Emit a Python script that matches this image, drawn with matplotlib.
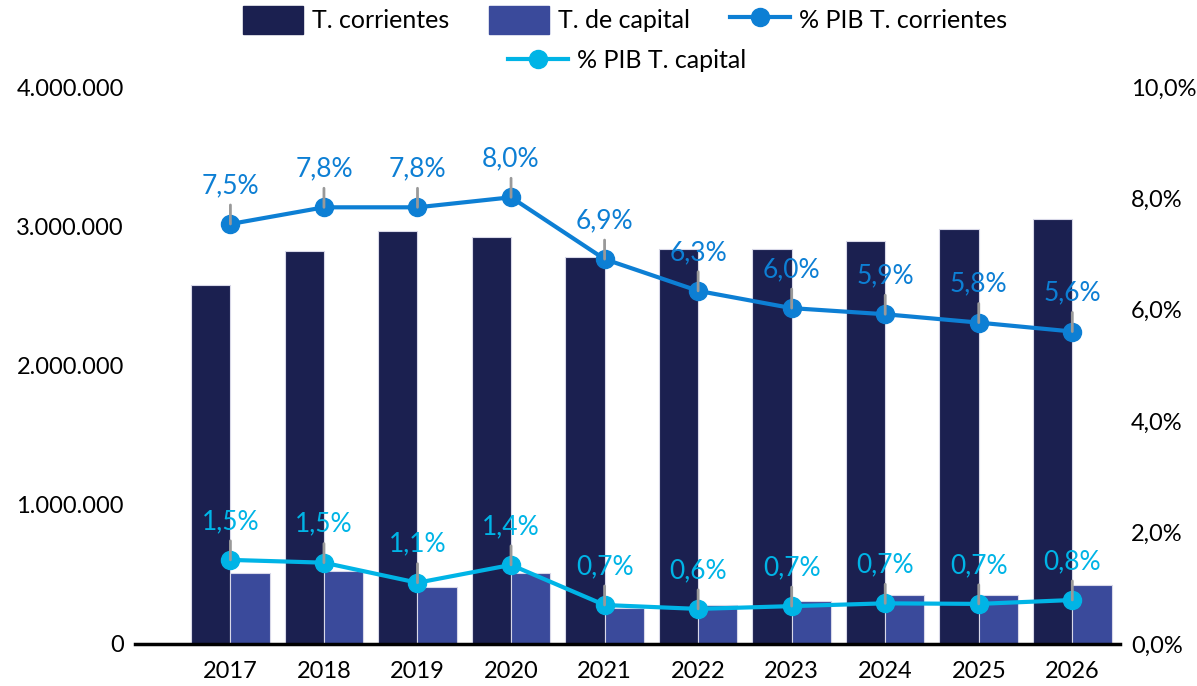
import matplotlib
matplotlib.use("Agg")
import matplotlib.pyplot as plt
from matplotlib.lines import Line2D
from matplotlib.patches import Patch
from matplotlib.ticker import FuncFormatter
import numpy as np

plt.rcParams['font.family'] = ['Lato', 'DejaVu Sans']

years = ["2017", "2018", "2019", "2020", "2021", "2022", "2023", "2024", "2025", "2026"]
t_corrientes = [2578000, 2822000, 2966000, 2923000, 2779000, 2837000, 2837000, 2894000, 2980000, 3052000]
t_capital = [512000, 526000, 409000, 512000, 256000, 280000, 309000, 352000, 352000, 424000]
pib_corrientes = [7.54, 7.84, 7.84, 8.02, 6.91, 6.34, 6.03, 5.92, 5.77, 5.61]
pib_capital = [1.51, 1.46, 1.10, 1.42, 0.70, 0.63, 0.68, 0.73, 0.72, 0.79]

c_dark = "#1b2050"
c_blue = "#3a4a9b"
c_line1 = "#0d7fd4"
c_line2 = "#00b4e6"

fig = plt.figure(figsize=(11.97, 6.86), dpi=100)
ax = fig.add_axes([135/1197, 42/686, (1120-135)/1197, (644-87)/686])
ax2 = ax.twinx()

x = np.arange(len(years))
w = 0.42
ax.bar(x - w/2, t_corrientes, width=w, color=c_dark, edgecolor="#d8d8e8", linewidth=0.8, zorder=1)
ax.bar(x + w/2, t_capital, width=w, color=c_blue, edgecolor="#d8d8e8", linewidth=0.8, zorder=1)

ax.set_xlim(-1.02, 9.51)
ax.set_ylim(0, 4000000)
ax.set_yticks([0, 1000000, 2000000, 3000000, 4000000])
ax.yaxis.set_major_formatter(FuncFormatter(lambda v, p: f"{int(v):,}".replace(",", ".")))
ax.set_xticks(x)
ax.set_xticklabels(years)

ax2.set_ylim(0, 10)
ax2.set_yticks([0, 2, 4, 6, 8, 10])
ax2.yaxis.set_major_formatter(FuncFormatter(lambda v, p: f"{v:.1f}".replace(".", ",") + "%"))

for a in (ax, ax2):
    for s in ("top", "left", "right", "bottom"):
        a.spines[s].set_visible(False)
ax.spines["bottom"].set_visible(True)
ax.spines["bottom"].set_linewidth(2.5)
ax.spines["bottom"].set_color("black")

ax.tick_params(axis="both", length=0, labelsize=17, colors="black")
ax.tick_params(axis="x", pad=12)
ax.tick_params(axis="y", pad=8)
ax2.tick_params(axis="y", length=0, labelsize=17, pad=8, colors="black")

ax2.plot(x, pib_corrientes, color=c_line1, lw=3, marker="o", ms=13, zorder=3)
ax2.plot(x, pib_capital, color=c_line2, lw=3, marker="o", ms=13, zorder=3)

def label(vals, color):
    for xi, v in zip(x, vals):
        txt = f"{v:.1f}".replace(".", ",") + "%"
        ax2.annotate(txt, xy=(xi, v), xytext=(0, 26), textcoords="offset pixels",
                     ha="center", va="bottom", fontsize=19, color=color, zorder=4,
                     arrowprops=dict(arrowstyle="-", color="#999999", lw=2,
                                     shrinkA=3, shrinkB=0, relpos=(0.5, 0)))

label(pib_corrientes, c_line1)
label(pib_capital, c_line2)

h1 = [Patch(color=c_dark), Patch(color=c_blue),
      Line2D([], [], color=c_line1, lw=3, marker="o", ms=13)]
leg1 = fig.legend(h1, ["T. corrientes", "T. de capital", "% PIB T. corrientes"],
                  loc="center", bbox_to_anchor=(625/1197, 1 - 20/686), ncol=3, frameon=False,
                  fontsize=18, handlelength=2.4, handleheight=1.3, columnspacing=1.6,
                  handletextpad=0.35, borderaxespad=0)
h2 = [Line2D([], [], color=c_line2, lw=3, marker="o", ms=13)]
leg2 = fig.legend(h2, ["% PIB T. capital"], loc="center",
                  bbox_to_anchor=(627/1197, 1 - 60/686), frameon=False, fontsize=18,
                  handlelength=2.4, handletextpad=0.35, borderaxespad=0)

fig.savefig("out.png", dpi=100)
